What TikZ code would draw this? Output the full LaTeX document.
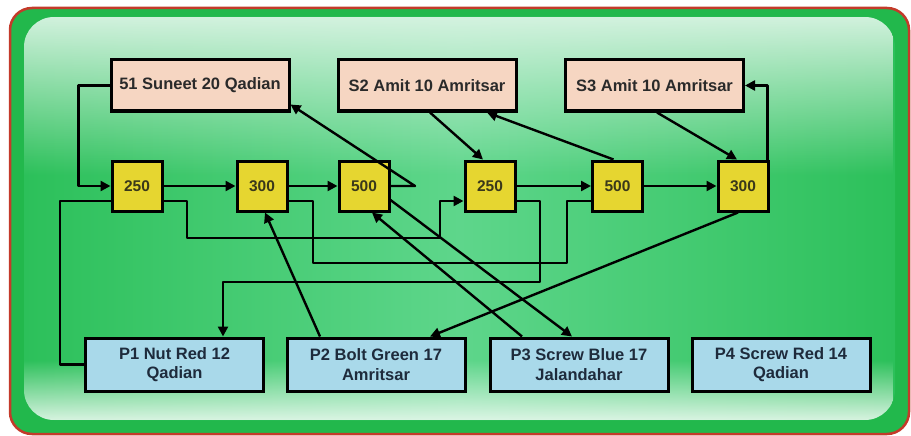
\documentclass[tikz,border=0pt]{standalone}
\usepackage{fontspec}
\setmainfont{Liberation Sans}
\usetikzlibrary{arrows.meta,fadings,calc}
\definecolor{outergreen}{HTML}{22B84C}
\definecolor{edgegreen}{HTML}{2CC05A}
\definecolor{midgreen}{HTML}{5ED68B}
\definecolor{glosscol}{HTML}{DAF4E4}
\definecolor{bottomgloss}{HTML}{EAF9EF}
\definecolor{framered}{HTML}{C43A2A}
\definecolor{peach}{HTML}{F6D6C2}
\definecolor{sqyellow}{HTML}{E6D630}
\definecolor{pblue}{HTML}{A9D9EA}
\definecolor{stext}{HTML}{2A2A2A}
\definecolor{qtext}{HTML}{3A381A}
\definecolor{ptext}{HTML}{1E2B3C}
\tikzfading[name=glossfade, top color=transparent!5, middle color=transparent!55, bottom color=transparent!100]
\tikzfading[name=bottomfade, top color=transparent!100, middle color=transparent!55, bottom color=transparent!10]
\tikzset{
  sbox/.style={draw=black, line width=3pt, fill=peach, minimum width=178pt, minimum height=51pt, inner sep=0pt, font=\fontsize{16.5}{19}\selectfont\bfseries, text=stext},
  qbox/.style={draw=black, line width=3pt, fill=sqyellow, minimum width=50pt, minimum height=50pt, inner sep=0pt, font=\fontsize{15.5}{18}\selectfont\bfseries, text=qtext},
  pbox/.style={draw=black, line width=3pt, fill=pblue, minimum width=178pt, minimum height=53pt, inner sep=0pt, align=center, font=\fontsize{16.5}{19.5}\selectfont\bfseries, text=ptext},
  conn/.style={draw=black, line width=2.4pt, line join=round},
  arr/.style={conn, -{Triangle[length=10pt,width=10pt]}}
}
\begin{document}
\begin{tikzpicture}[x=1pt,y=-1pt]
\useasboundingbox (0,0) rectangle (911,436);
% background frame
\fill[outergreen, draw=framered, line width=2.5pt, rounded corners=22pt] (10,8) rectangle (909,434);
\shade[left color=edgegreen, right color=edgegreen, middle color=midgreen, rounded corners=30pt] (24,17) rectangle (895,420);
\begin{scope}
  \clip[rounded corners=30pt] (24,17) rectangle (895,420);
  \fill[glosscol, path fading=glossfade] (24,17) rectangle (895,175);
  \fill[bottomgloss, path fading=bottomfade] (24,360) rectangle (895,420);
\end{scope}
% top boxes
\node[sbox] (s1) at (200,85.5) {51 Suneet 20 Qadian};
\node[sbox] (s2) at (427,85.5) {S2 Amit 10 Amritsar};
\node[sbox] (s3) at (654.5,85.5) {S3 Amit 10 Amritsar};
% squares
\node[qbox] (q1) at (137,186) {250};
\node[qbox] (q2) at (262,186) {300};
\node[qbox] (q3) at (364,186) {500};
\node[qbox] (q4) at (490,186) {250};
\node[qbox] (q5) at (617.5,186) {500};
\node[qbox] (q6) at (743,186) {300};
% bottom boxes
\node[pbox] (p1) at (174.5,364.5) {P1 Nut Red 12\\Qadian};
\node[pbox] (p2) at (376,364.5) {P2 Bolt Green 17\\Amritsar};
\node[pbox] (p3) at (579,364.5) {P3 Screw Blue 17\\Jalandahar};
\node[pbox] (p4) at (781,364.5) {P4 Screw Red 14\\Qadian};
% connectors
\draw[arr] (s1.west) -- ++(-31,0) |- (q1.west);
\draw[arr] (q1) -- (q2);
\draw[arr] (q2) -- (q3);
\draw[arr] (q4) -- (q5);
\draw[arr] (q5) -- (q6);
\draw[arr] ([yshift=-15pt]q1.east) -- (187,201) -- (187,238) -- (440,238) -- (440,201) -- ([yshift=-15pt]q4.west);
\draw[conn] ([yshift=-15pt]q2.east) -- (313,201) -- (313,263) -- (567,263) -- (567,201) -- ([yshift=-15pt]q5.west);
\draw[arr] ([yshift=-15pt]q4.east) -- (540,201) -- (540,282) -| ([xshift=48.5pt]p1.north);
\draw[conn] (p1.west) -- ++(-24,0) |- ([yshift=-15pt]q1.west);
\draw[arr] ([xshift=-56pt]p2.north) -- ([xshift=3pt]q2.south);
\draw[arr] ([xshift=-57pt]p3.north) -- ([xshift=8pt]q3.south);
\draw[arr] ([yshift=-14pt]q3.east) -- ([xshift=-7pt]p3.north);
\draw[arr] (q3.east) -- (415,186) -- ([yshift=8pt]s1.south east);
\draw[arr] ([xshift=3pt]s2.south) -- ([xshift=-7pt]q4.north);
\draw[arr] ([xshift=-4pt]q5.north) -- ([xshift=60pt]s2.south);
\draw[arr] ([xshift=2.5pt]s3.south) -- ([xshift=-6pt]q6.north);
\draw[arr] ([xshift=-2pt]q6.north east) |- (s3.east);
\draw[arr] ([xshift=-5pt]q6.south) -- ([xshift=54pt]p2.north);
\end{tikzpicture}
\end{document}
